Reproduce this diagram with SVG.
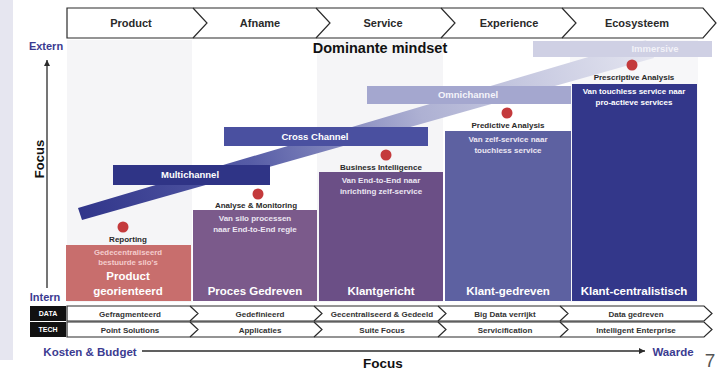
<svg xmlns="http://www.w3.org/2000/svg" width="720" height="372" viewBox="0 0 720 372">
<style>
text{font-family:"Liberation Sans",Arial,sans-serif;font-weight:bold;text-anchor:middle}
.hdr{font-size:11px;fill:#2a2a2a}
.row{font-size:8px;fill:#333}
.tag{font-size:7px;fill:#fff}
.lbl{font-size:8px;fill:#2a2a2a}
.in{font-size:8px;fill:#ece6f2}
.big{font-size:11.5px;fill:#fff}
.ch{font-size:9.5px;fill:#fff}
.blue{fill:#3b3b91;font-size:11px}
.ln{fill:none;stroke:#2b2b2b;stroke-width:1.2}
.dot{fill:#c43a3c}
</style>
<defs>
<linearGradient id="band" x1="78" y1="214" x2="650" y2="46" gradientUnits="userSpaceOnUse">
<stop offset="0" stop-color="#30358a"/>
<stop offset="0.3" stop-color="#565ca6"/>
<stop offset="0.6" stop-color="#aeb1d3"/>
<stop offset="1" stop-color="#e4e5f0"/>
</linearGradient>
<marker id="ah" markerWidth="8" markerHeight="8" refX="6" refY="4" orient="auto" markerUnits="userSpaceOnUse">
<path d="M0,1 L6,4 L0,7 Z" fill="#2b2b2b"/>
</marker>
</defs>
<rect width="720" height="372" fill="#fff"/>
<rect x="0" y="0" width="13" height="360" fill="#e6e6f0"/>
<g id="columns">
<rect x="67" y="40" width="125" height="262" fill="#f5f5f7"/>
<rect x="317" y="40" width="126" height="262" fill="#f5f5f7"/>
<rect x="570" y="40" width="128" height="262" fill="#f7f7f9"/>
</g>
<g id="header">
<path class="ln" d="M67,8 H703 L716,23 L703,38 H67 Z" fill="#fff"/>
<path class="ln" d="M193,8 L207,23 L193,38 M316,8 L330,23 L316,38 M441,8 L455,23 L441,38 M562,8 L576,23 L562,38"/>
<text class="hdr" x="131" y="27">Product</text>
<text class="hdr" x="260" y="27">Afname</text>
<text class="hdr" x="383" y="27">Service</text>
<text class="hdr" x="509" y="27">Experience</text>
<text class="hdr" x="637" y="27">Ecosysteem</text>
</g>
<text x="380" y="53" style="font-size:14.5px;fill:#111;font-weight:900">Dominante mindset</text>
<g id="axis-y">
<line x1="47" y1="288" x2="47" y2="60" stroke="#2b2b2b" stroke-width="1.3" marker-end="url(#ah)"/>
<text class="blue" x="46" y="50">Extern</text>
<text class="blue" x="45" y="301">Intern</text>
<text x="44" y="159" transform="rotate(-90 44 159)" style="font-size:13px;fill:#111">Focus</text>
</g>
<polygon id="trend" points="78,208 82,220 654,58 646,40" fill="url(#band)"/>
<g id="channels">
<g id="immersive"><rect x="533" y="41" width="179" height="16" fill="#cfd0e4"/><text class="ch" x="655" y="52" style="fill:#f2f2f8">Immersive</text></g>
<g id="omnichannel"><rect x="367" y="86" width="204" height="18" fill="#a4a7cf"/><text class="ch" x="468" y="98" style="fill:#f4f4fa">Omnichannel</text></g>
<g id="crosschannel"><rect x="224" y="127" width="204" height="19" fill="#4a50a0"/><text class="ch" x="315" y="140">Cross Channel</text></g>
<g id="multichannel"><rect x="113" y="165" width="157" height="20" fill="#2f3486"/><text class="ch" x="190" y="178">Multichannel</text></g>
</g>
<g id="box-product">
<circle class="dot" cx="123" cy="227" r="5.5"/>
<text class="lbl" x="128" y="242">Reporting</text>
<rect x="66" y="245" width="125" height="56" fill="#c86e6d"/>
<text class="tag" x="128" y="255" style="fill:#f4cccc;font-size:7.8px">Gedecentraliseerd</text>
<text class="tag" x="128" y="265" style="fill:#f4cccc;font-size:7.8px">bestuurde silo's</text>
<text class="big" x="128" y="280">Product</text>
<text class="big" x="128" y="295">georienteerd</text>
</g>
<g id="box-proces">
<circle class="dot" cx="258" cy="194" r="5.5"/>
<text class="lbl" x="256" y="208">Analyse &amp; Monitoring</text>
<rect x="193" y="210" width="124" height="91" fill="#7b5a8b"/>
<text class="in" x="255" y="221">Van silo processen</text>
<text class="in" x="255" y="232">naar End-to-End regie</text>
<text class="big" x="255" y="295">Proces Gedreven</text>
</g>
<g id="box-klantgericht">
<circle class="dot" cx="386" cy="155" r="5.5"/>
<text class="lbl" x="381" y="170">Business Intelligence</text>
<rect x="319" y="172" width="124" height="129" fill="#6b4f86"/>
<text class="in" x="381" y="183">Van End-to-End naar</text>
<text class="in" x="381" y="194">inrichting zelf-service</text>
<text class="big" x="381" y="295">Klantgericht</text>
</g>
<g id="box-klantgedreven">
<circle class="dot" cx="507" cy="113" r="5.5"/>
<text class="lbl" x="508" y="128">Predictive Analysis</text>
<rect x="445" y="131" width="126" height="170" fill="#5d61a1"/>
<text class="in" x="508" y="142">Van zelf-service naar</text>
<text class="in" x="508" y="153">touchless service</text>
<text class="big" x="508" y="295">Klant-gedreven</text>
</g>
<g id="box-klantcentralistisch">
<circle class="dot" cx="632" cy="65" r="5.5"/>
<text class="lbl" x="634" y="80">Prescriptive Analysis</text>
<rect x="572" y="84" width="125" height="217" fill="#33378a"/>
<text class="in" x="634" y="94" style="fill:#fff">Van touchless service naar</text>
<text class="in" x="634" y="105" style="fill:#fff">pro-actieve services</text>
<text class="big" x="634" y="295">Klant-centralistisch</text>
</g>
<g id="row-data">
<rect x="30" y="306" width="36" height="15" fill="#111"/>
<text class="tag" x="48" y="316">DATA</text>
<path class="ln" d="M67,306 H704 L712,313.5 L704,321 H67 Z" fill="#fff"/>
<path class="ln" d="M190,306 L198,313.5 L190,321 M314,306 L322,313.5 L314,321 M438,306 L446,313.5 L438,321 M560,306 L568,313.5 L560,321"/>
<text class="row" x="130" y="317">Gefragmenteerd</text>
<text class="row" x="260" y="317">Gedefinieerd</text>
<text class="row" x="382" y="317">Gecentraliseerd &amp; Gedeeld</text>
<text class="row" x="505" y="317">Big Data verrijkt</text>
<text class="row" x="636" y="317">Data gedreven</text>
</g>
<g id="row-tech">
<rect x="30" y="322" width="36" height="15" fill="#111"/>
<text class="tag" x="48" y="332">TECH</text>
<path class="ln" d="M67,322 H704 L712,329.5 L704,337 H67 Z" fill="#fff"/>
<path class="ln" d="M190,322 L198,329.5 L190,337 M314,322 L322,329.5 L314,337 M438,322 L446,329.5 L438,337 M560,322 L568,329.5 L560,337"/>
<text class="row" x="130" y="333">Point Solutions</text>
<text class="row" x="260" y="333">Applicaties</text>
<text class="row" x="382" y="333">Suite Focus</text>
<text class="row" x="505" y="333">Servicification</text>
<text class="row" x="636" y="333">Intelligent Enterprise</text>
</g>
<g id="axis-x">
<line x1="142" y1="351" x2="645" y2="351" stroke="#2b2b2b" stroke-width="1.3" marker-end="url(#ah)"/>
<text class="blue" x="90" y="356" style="font-size:11.5px">Kosten &amp; Budget</text>
<text class="blue" x="673" y="356" style="font-size:11.5px">Waarde</text>
<text x="383" y="368" style="font-size:13.5px;fill:#111">Focus</text>
</g>
<text x="710" y="367" style="font-size:19px;font-weight:normal;fill:#555">7</text>
</svg>
